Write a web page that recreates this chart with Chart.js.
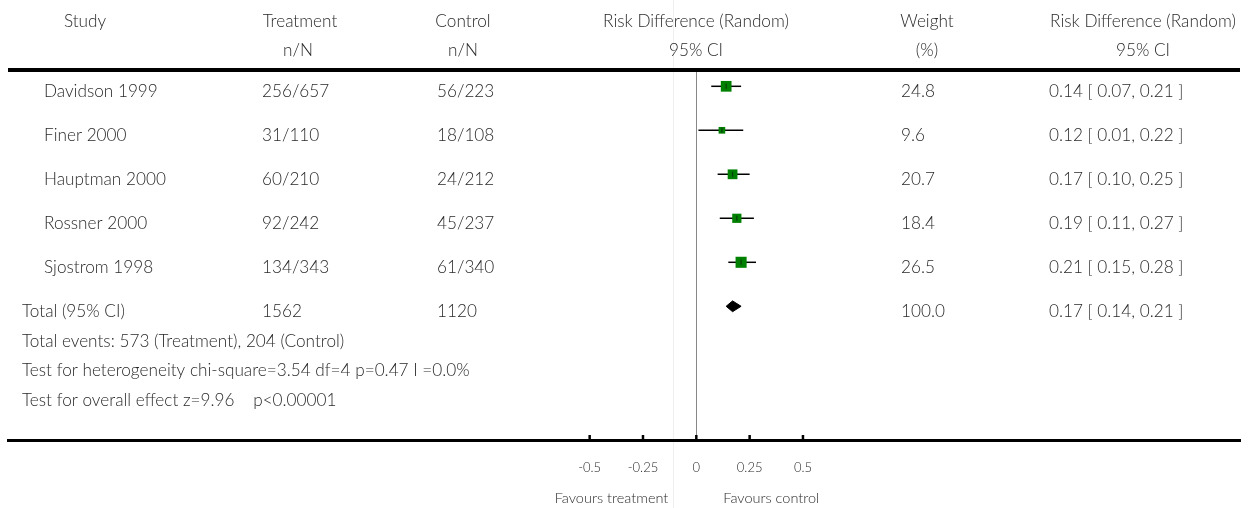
<!DOCTYPE html>
<html><head><meta charset="utf-8">
<script src="https://cdn.jsdelivr.net/npm/chart.js@4.4.0/dist/chart.umd.min.js"></script>
<style>html,body{margin:0;padding:0;background:#fff;} #wrap{width:1252px;height:508px;position:relative;}</style>
</head><body><div id="wrap"><canvas id="c" width="1252" height="508"></canvas></div>
<script>
// ---- data ----
const studies = ['Davidson 1999', 'Finer 2000', 'Hauptman 2000', 'Rossner 2000', 'Sjostrom 1998'];
const treatment = ['256/657', '31/110', '60/210', '92/242', '134/343'];
const control = ['56/223', '18/108', '24/212', '45/237', '61/340'];
const estimate = [0.14, 0.12, 0.17, 0.19, 0.21];
const ciLow = [0.07, 0.01, 0.10, 0.11, 0.15];
const ciHigh = [0.21, 0.22, 0.25, 0.27, 0.28];
const weights = [24.8, 9.6, 20.7, 18.4, 26.5];
const totalLabel = 'Total (95% CI)';
const totalTreatment = '1562';
const totalControl = '1120';
const totalEstimate = [0.17];
const totalLow = [0.14];
const totalHigh = [0.21];
const totalWeight = [100.0];
const footnotes = [
  'Total events: 573 (Treatment), 204 (Control)',
  'Test for heterogeneity chi-square=3.54 df=4 p=0.47 I =0.0%',
  'Test for overall effect z=9.96    p<0.00001'
];
const headerRow1 = ['Study', 'Treatment', 'Control', 'Risk Difference (Random)', 'Weight', 'Risk Difference (Random)'];
const headerRow2 = ['', 'n/N', 'n/N', '95% CI', '(%)', '95% CI'];
const xTicks = [-0.5, -0.25, 0, 0.25, 0.5];
const xTickLabels = ['-0.5', '-0.25', '0', '0.25', '0.5'];
const favourLabels = ['Favours treatment', 'Favours control'];

// ---- styling ----
const FONT = 'Lato, "Open Sans", sans-serif';
const TXT = '#2a2a2a';
const ROW_PX = 44;              // pixel height of one row unit
const DIAMOND_HALF = 5.4 / ROW_PX;
const TOTAL_ROW = studies.length;
const fmt2 = v => v.toFixed(2);
const ciText = (e, l, h) => `${fmt2(e)} [ ${fmt2(l)}, ${fmt2(h)} ]`;

const datasets = [];
// center ticks in squares
datasets.push({
  type: 'scatter', order: 0,
  data: estimate.map((e, i) => ({x: e, y: i})),
  pointStyle: 'line', rotation: 90, pointRadius: 2.5,
  borderColor: '#0b3d0b', borderWidth: 1.2, backgroundColor: '#0b3d0b'
});
// weighted squares
datasets.push({
  type: 'scatter', order: 1,
  data: estimate.map((e, i) => ({x: e, y: i})),
  pointStyle: 'rect',
  pointRadius: weights.map(w => 2.15 * Math.sqrt(w) / Math.SQRT2),
  backgroundColor: '#008000', borderColor: '#008000', borderWidth: 0
});
// pooled diamond
datasets.push({
  type: 'line', order: 2,
  data: [
    {x: totalLow[0], y: TOTAL_ROW},
    {x: totalEstimate[0], y: TOTAL_ROW - DIAMOND_HALF},
    {x: totalHigh[0], y: TOTAL_ROW},
    {x: totalEstimate[0], y: TOTAL_ROW + DIAMOND_HALF},
    {x: totalLow[0], y: TOTAL_ROW}
  ],
  fill: 'shape', backgroundColor: '#000', borderColor: '#000', borderWidth: 1,
  pointRadius: 0, tension: 0
});
// confidence interval lines
studies.forEach((s, i) => {
  datasets.push({
    type: 'line', order: 3,
    data: [{x: ciLow[i], y: i}, {x: ciHigh[i], y: i}],
    borderColor: '#000', borderWidth: 1.5, pointRadius: 0, fill: false
  });
});

const tablePlugin = {
  id: 'table',
  beforeDraw(chart) {
    const {ctx, chartArea, scales: {x}} = chart;
    ctx.save();
    // faint divider
    ctx.strokeStyle = '#efefef'; ctx.lineWidth = 1;
    const fx = Math.round(x.getPixelForValue(-0.11)) + 0.5;
    ctx.beginPath(); ctx.moveTo(fx, 0); ctx.lineTo(fx, chart.height); ctx.stroke();
    // zero line
    const zx = Math.round(x.getPixelForValue(0)) + 0.5;
    ctx.strokeStyle = '#888'; ctx.lineWidth = 1;
    ctx.beginPath(); ctx.moveTo(zx, chartArea.top - 1); ctx.lineTo(zx, chartArea.bottom); ctx.stroke();
    ctx.restore();
  },
  afterDraw(chart) {
    const {ctx, chartArea, scales: {x, y}} = chart;
    ctx.save();
    // top rule
    ctx.fillStyle = '#000';
    ctx.fillRect(chartArea.left, chartArea.top - 4, chartArea.right - chartArea.left, 4);
    // upward tick marks on axis
    ctx.strokeStyle = '#000'; ctx.lineWidth = 2.5;
    xTicks.forEach(v => {
      const px = x.getPixelForValue(v);
      ctx.beginPath(); ctx.moveTo(px, chartArea.bottom - 5); ctx.lineTo(px, chartArea.bottom); ctx.stroke();
    });
    ctx.fillStyle = TXT;
    ctx.font = '300 17.2px ' + FONT;
    ctx.textBaseline = 'alphabetic';
    // headers
    const hx = [85, 300, 463, 696, 927, 1143];
    ctx.textAlign = 'center';
    headerRow1.forEach((t, i) => ctx.fillText(t, hx[i], 27));
    headerRow2.forEach((t, i) => { if (t) ctx.fillText(t, i === 1 ? 298 : hx[i], 56); });
    // study rows
    const colTreat = 262, colCtrl = 437, colW = 901, colCI = 1049;
    ctx.textAlign = 'left';
    studies.forEach((s, i) => {
      const by = y.getPixelForValue(i) + 11;
      ctx.fillText(s, 44, by);
      ctx.fillText(treatment[i], colTreat, by);
      ctx.fillText(control[i], colCtrl, by);
      ctx.fillText(weights[i].toFixed(1), colW, by);
      ctx.fillText(ciText(estimate[i], ciLow[i], ciHigh[i]), colCI, by);
    });
    const ty = y.getPixelForValue(TOTAL_ROW) + 11;
    ctx.fillText(totalLabel, 22, ty);
    ctx.fillText(totalTreatment, colTreat, ty);
    ctx.fillText(totalControl, colCtrl, ty);
    ctx.fillText(totalWeight[0].toFixed(1), colW, ty);
    ctx.fillText(ciText(totalEstimate[0], totalLow[0], totalHigh[0]), colCI, ty);
    footnotes.forEach((t, k) => ctx.fillText(t, 22, ty + 29.5 * (k + 1)));
    // favours labels
    const zx = x.getPixelForValue(0);
    ctx.font = '300 14.5px ' + FONT;
    ctx.textAlign = 'right';
    ctx.fillText(favourLabels[0], zx - 28, 503);
    ctx.textAlign = 'left';
    ctx.fillText(favourLabels[1], zx + 27, 503);
    ctx.restore();
  }
};

new Chart(document.getElementById('c'), {
  type: 'scatter',
  data: {datasets},
  options: {
    animation: false, responsive: false, devicePixelRatio: 1,
    layout: {padding: {left: 8, right: 12, top: 72, bottom: 12.4}},
    plugins: {legend: {display: false}, tooltip: {enabled: false}},
    scales: {
      x: {
        type: 'linear', min: -3.227, max: 2.549,
        afterBuildTicks: s => { s.ticks = xTicks.map(v => ({value: v})); },
        ticks: {
          autoSkip: false, maxRotation: 0, padding: 20, color: TXT,
          font: {family: FONT, size: 13, weight: '300'},
          callback: v => xTickLabels[xTicks.indexOf(v)]
        },
        grid: {display: false, drawTicks: false},
        border: {display: true, width: 3, color: '#000'}
      },
      y: {type: 'linear', reverse: true, min: -0.325, max: 8.039, display: false}
    }
  },
  plugins: [tablePlugin]
});
</script>
</body></html>
